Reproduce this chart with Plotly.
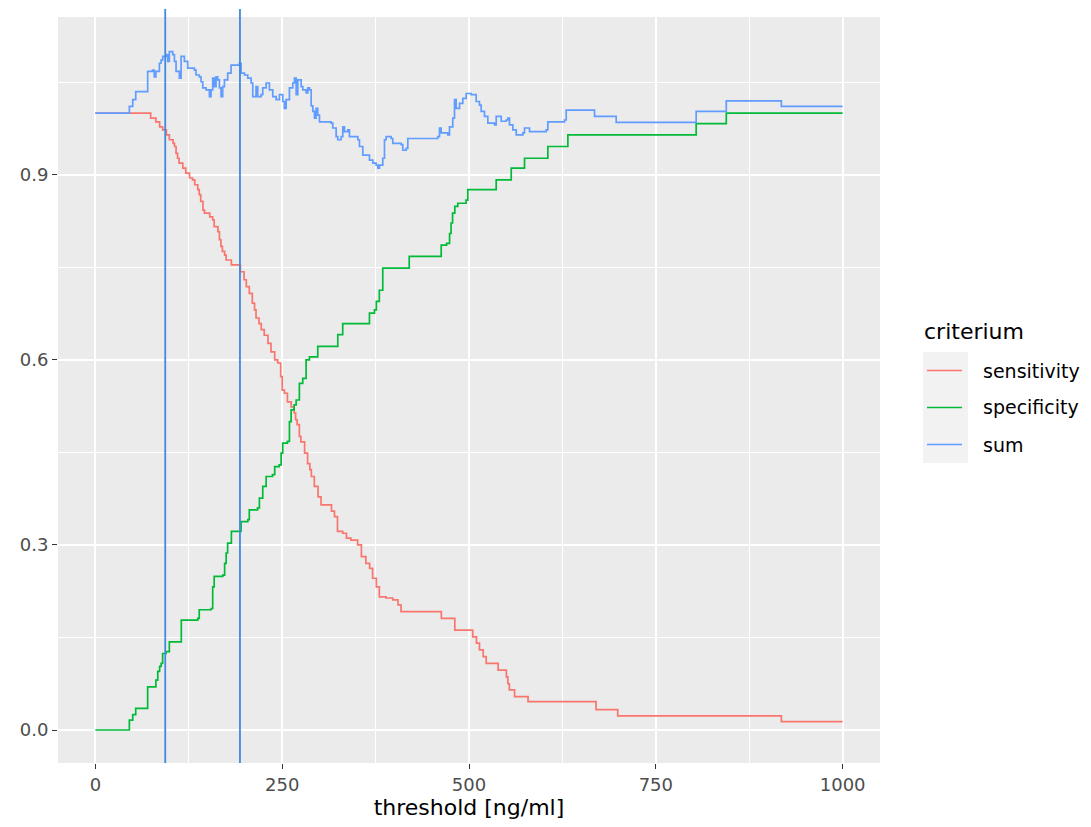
import plotly.graph_objects as go

# Step curves: each x is the threshold where the new level starts
sens_x = [0, 74, 81, 86, 90, 95, 99, 104, 106, 108, 110, 112, 117, 121, 126, 130, 133, 137, 139,
          141, 144, 146, 153, 157, 159, 164, 166, 168, 170, 173, 175, 182, 194, 199, 202, 206, 210,
          213, 215, 219, 222, 226, 231, 235, 240, 244, 248, 250, 253, 257, 262, 266, 268, 270, 273,
          275, 280, 284, 287, 289, 293, 298, 302, 316, 320, 324, 331, 336, 342, 351, 356, 362, 367,
          371, 376, 380, 389, 398, 405, 409, 463, 481, 505, 510, 514, 519, 523, 539, 550, 552, 554,
          561, 579, 670, 699, 918, 1000]
sens_y = [1.000, 0.992, 0.986, 0.978, 0.973, 0.965, 0.957, 0.951, 0.946, 0.935, 0.927, 0.919, 0.911,
          0.903, 0.895, 0.892, 0.884, 0.876, 0.868, 0.857, 0.843, 0.838, 0.832, 0.827, 0.816, 0.808,
          0.795, 0.784, 0.776, 0.770, 0.762, 0.754, 0.743, 0.730, 0.719, 0.708, 0.692, 0.681, 0.668,
          0.659, 0.649, 0.640, 0.627, 0.613, 0.600, 0.595, 0.573, 0.551, 0.546, 0.532, 0.524, 0.514,
          0.503, 0.495, 0.476, 0.467, 0.449, 0.432, 0.422, 0.411, 0.395, 0.378, 0.365, 0.355, 0.346,
          0.322, 0.319, 0.311, 0.308, 0.300, 0.281, 0.270, 0.262, 0.246, 0.232, 0.216, 0.214, 0.211,
          0.203, 0.192, 0.181, 0.162, 0.151, 0.141, 0.130, 0.119, 0.108, 0.097, 0.086, 0.075, 0.065,
          0.054, 0.046, 0.033, 0.023, 0.0135, 0.0135]

spec_x = [0, 45.5, 50, 54, 70, 81, 83.5, 86, 88, 90, 94.6, 99, 115, 137, 139, 155, 157, 159, 170.5,
          173, 175, 177, 182, 195, 204, 206, 217, 219.5, 224, 228.5, 237, 240, 246, 248.6, 250.7,
          257, 259.7, 262, 266, 268.7, 273, 277.5, 282, 286.5, 297.6, 324.4, 331, 366.8, 373.5, 376,
          380, 384.6, 420, 462.8, 470, 474, 476, 478, 481, 485, 496, 498.4, 536.4, 556.5, 574.3,
          605.5, 632.3, 804, 844.3, 1000]
spec_y = [0.000, 0.016, 0.025, 0.035, 0.070, 0.081, 0.095, 0.103, 0.108, 0.124, 0.127, 0.143, 0.178,
          0.181, 0.195, 0.197, 0.232, 0.249, 0.251, 0.270, 0.287, 0.303, 0.322, 0.338, 0.341, 0.357,
          0.360, 0.376, 0.395, 0.411, 0.414, 0.427, 0.430, 0.449, 0.465, 0.468, 0.500, 0.519, 0.527,
          0.535, 0.562, 0.570, 0.600, 0.605, 0.622, 0.641, 0.659, 0.676, 0.681, 0.695, 0.713, 0.749,
          0.768, 0.786, 0.789, 0.805, 0.822, 0.838, 0.849, 0.854, 0.859, 0.876, 0.892, 0.911, 0.927,
          0.946, 0.965, 0.983, 1.000, 1.000]

sum_x = [0, 45.5, 50, 54, 70, 76.5, 78.8, 81, 85.7, 87.9, 90.1, 94.6, 96.8, 99, 103.5, 105.8, 108,
         112.4, 114.7, 119.1, 123.6, 132.5, 134.7, 139.2, 141.4, 143.7, 148.1, 152.6, 154.8, 157,
         159.3, 161.5, 163.7, 166, 168.2, 170.4, 172.7, 177.1, 181.6, 192.7, 195, 199.5, 203.9, 208.4,
         210.6, 215, 217.3, 221.8, 224, 228.5, 232.9, 237.4, 241.9, 246.3, 250.8, 253, 255.3, 259.7,
         264.2, 266.4, 268.7, 270.9, 275.4, 277.6, 282.1, 284.3, 286.5, 288.8, 291, 293.2, 295.4,
         297.6, 299.9, 315.5, 317.7, 322.2, 324.4, 328.9, 331.1, 333.3, 337.8, 340, 351.2, 353.4,
         357.9, 366.8, 371.3, 375.7, 378, 380.2, 384.6, 386.9, 389.1, 395.8, 398, 409.2, 411.4,
         415.9, 418.1, 458.2, 460.5, 462.7, 471.6, 473.9, 478.3, 480.6, 482.8, 487.3, 491.7, 496.2,
         502.9, 509.6, 514, 516.3, 520.7, 525.2, 534.1, 536.4, 543.1, 549.8, 552, 554.2, 558.7,
         563.2, 572.1, 574.3, 581, 603.3, 605.5, 627.8, 630.1, 668, 697, 804, 844.3, 918, 1000]
sum_y = [1.000, 1.011, 1.022, 1.035, 1.068, 1.070, 1.059, 1.068, 1.081, 1.086, 1.092, 1.095, 1.084,
         1.100, 1.095, 1.084, 1.068, 1.057, 1.092, 1.084, 1.073, 1.070, 1.062, 1.059, 1.051, 1.041,
         1.038, 1.027, 1.038, 1.057, 1.043, 1.059, 1.054, 1.041, 1.027, 1.043, 1.054, 1.065, 1.078,
         1.081, 1.065, 1.062, 1.057, 1.049, 1.027, 1.043, 1.027, 1.030, 1.041, 1.049, 1.038, 1.027,
         1.022, 1.030, 1.019, 1.008, 1.022, 1.041, 1.049, 1.057, 1.030, 1.054, 1.043, 1.038, 1.033,
         1.041, 1.038, 1.012, 1.003, 0.992, 1.008, 0.997, 0.986, 0.984, 0.976, 0.962, 0.957, 0.962,
         0.978, 0.970, 0.973, 0.962, 0.957, 0.946, 0.932, 0.924, 0.919, 0.916, 0.911, 0.916, 0.927,
         0.957, 0.962, 0.959, 0.951, 0.949, 0.940, 0.943, 0.959, 0.962, 0.976, 0.968, 0.965, 0.978,
         0.992, 1.022, 1.008, 1.016, 1.024, 1.032, 1.030, 1.019, 1.013, 1.003, 0.995, 0.984, 0.981,
         0.995, 0.987, 0.989, 0.992, 0.981, 0.973, 0.965, 0.968, 0.976, 0.970, 0.973, 0.986, 0.989,
         1.005, 0.995, 0.985, 1.003, 1.020, 1.011, 1.011]

# Selected cut-off thresholds
cutoffs = [93.5, 193.5]

criteria = ["sensitivity", "specificity", "sum"]
colors = ["#F8766D", "#00BA38", "#619CFF"]
x_ticks = [0, 250, 500, 750, 1000]
y_ticks = [0.0, 0.3, 0.6, 0.9]

FONT = "DejaVu Sans"
W, H = 1091, 827
ML, MR, MT, MB = 58, 211, 17, 64

fig = go.Figure()
for name, xs, ys, col in zip(criteria, [sens_x, spec_x, sum_x], [sens_y, spec_y, sum_y], colors):
    fig.add_trace(go.Scatter(x=xs, y=ys, mode="lines", name=name,
                             line=dict(color=col, width=1.7, shape="hv"), showlegend=False))

# pixel -> paper helpers for the hand-built legend
pw, ph = W - ML - MR, H - MT - MB
def px(x):
    return (x - ML) / pw
def py(y):
    return (H - MB - y) / ph

shapes = []
for c in cutoffs:
    shapes.append(dict(type="line", xref="x", yref="paper", x0=c, x1=c, y0=0, y1=py(9),
                       line=dict(color="#3F8AE0", width=1.8)))

# legend keys
key_top, key_h = 352, 37
shapes.append(dict(type="rect", xref="paper", yref="paper", x0=px(923), x1=px(968),
                   y0=py(key_top + 3 * key_h), y1=py(key_top), fillcolor="#F2F2F2", line=dict(width=0),
                   layer="below"))
annotations = [dict(text="criterium", xref="paper", yref="paper", x=px(922), y=py(key_top - 6),
                    xanchor="left", yanchor="bottom", showarrow=False,
                    font=dict(family=FONT, size=22, color="#000000"))]
for i, (name, col) in enumerate(zip(criteria, colors)):
    cy = key_top + key_h * (i + 0.5)
    shapes.append(dict(type="line", xref="paper", yref="paper", x0=px(927), x1=px(962), y0=py(cy), y1=py(cy),
                       line=dict(color=col, width=1.7)))
    annotations.append(dict(text=name, xref="paper", yref="paper", x=px(981), y=py(cy),
                            xanchor="left", yanchor="middle", showarrow=False,
                            font=dict(family=FONT, size=19, color="#000000")))

fig.update_layout(
    width=W, height=H,
    margin=dict(l=ML, r=MR, t=MT, b=MB, pad=0),
    paper_bgcolor="white", plot_bgcolor="#EBEBEB",
    font=dict(family=FONT, color="#4D4D4D"),
    shapes=shapes, annotations=annotations,
    xaxis=dict(range=[-50, 1050], tickvals=x_ticks, ticktext=[str(v) for v in x_ticks],
               showgrid=True, gridcolor="white", gridwidth=1.8, zeroline=False,
               ticks="outside", ticklen=5, tickcolor="#333333", tickwidth=1.2,
               tickfont=dict(family=FONT, size=18, color="#4D4D4D"),
               minor=dict(tickvals=[125, 375, 625, 875], showgrid=True, gridcolor="white", gridwidth=0.9),
               title=dict(text="threshold [ng/ml]", standoff=6, font=dict(family=FONT, size=22, color="#000000")),
               showline=False, fixedrange=True),
    yaxis=dict(range=[-0.0535, 1.156], tickvals=y_ticks, ticktext=[f"{v:.1f}" for v in y_ticks],
               showgrid=True, gridcolor="white", gridwidth=1.8, zeroline=False,
               ticks="outside", ticklen=5, tickcolor="#333333", tickwidth=1.2,
               tickfont=dict(family=FONT, size=18, color="#4D4D4D"),
               minor=dict(tickvals=[0.15, 0.45, 0.75, 1.05], showgrid=True, gridcolor="white", gridwidth=0.9),
               showline=False, fixedrange=True),
)

fig.write_html("out.html")
